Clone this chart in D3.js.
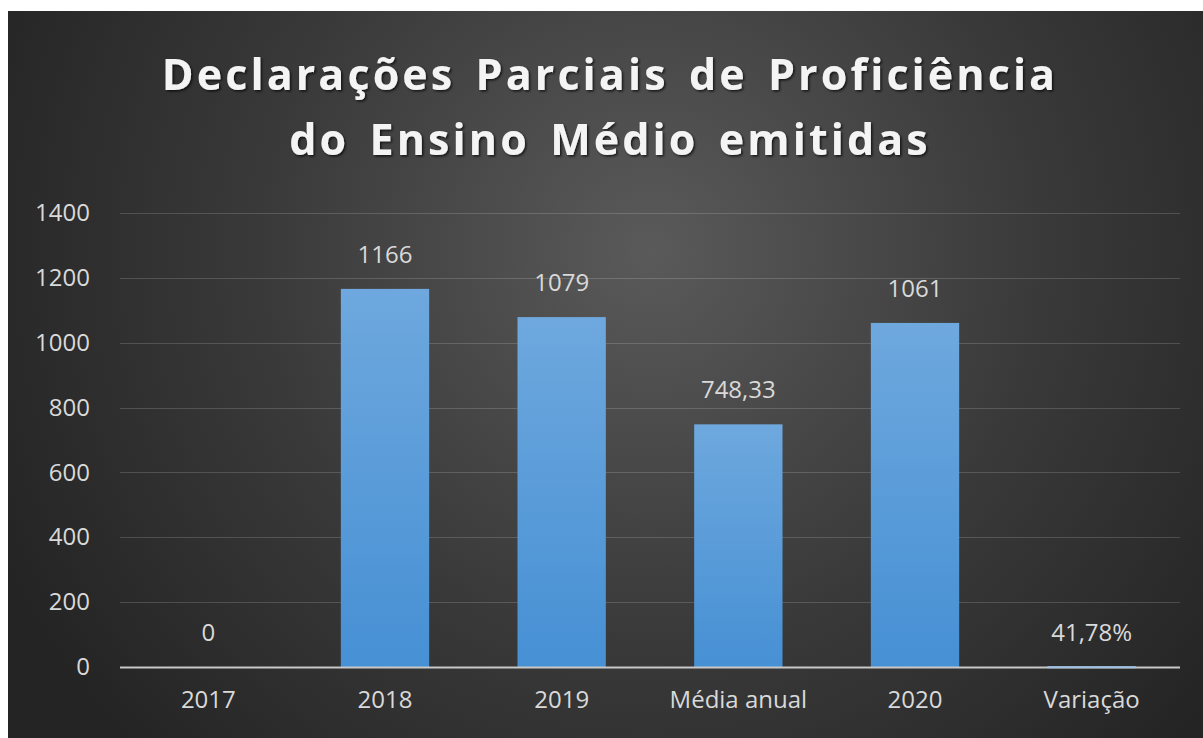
<!DOCTYPE html>
<html>
<head>
<meta charset="utf-8">
<script src="https://cdn.jsdelivr.net/npm/d3@7"></script>
<style>
    html, body { margin: 0; padding: 0; background: #ffffff; }
    svg { display: block; }
</style>
</head>
<body>
<div id="chart"></div>
<script>
// chart data
const categories = ["2017", "2018", "2019", "Média anual", "2020", "Variação"];
const values = [0, 1166, 1079, 748.33, 1061, 0.4178];
const valueLabels = ["0", "1166", "1079", "748,33", "1061", "41,78%"];
const yTicks = [0, 200, 400, 600, 800, 1000, 1200, 1400];
const titleLines = ["Declarações Parciais de Proficiência", "do Ensino Médio emitidas"];

const W = 1203, H = 738;
const frame = {left: 8, top: 11};
const margin = {top: 213, right: 23, bottom: 71, left: 120};

const svg = d3.select("#chart").append("svg")
    .attr("width", W)
    .attr("height", H);

const defs = svg.append("defs");

// dark radial background like the excel style
let bg = defs.append("radialGradient")
    .attr("id", "bg-grad")
    .attr("gradientUnits", "userSpaceOnUse")
    .attr("cx", 650).attr("cy", 250).attr("r", 720);
bg.append("stop").attr("offset", "0%").attr("stop-color", "#5a5a5a");
bg.append("stop").attr("offset", "55%").attr("stop-color", "#393939");
bg.append("stop").attr("offset", "100%").attr("stop-color", "#242424");

let barGrad = defs.append("linearGradient")
    .attr("id", "bar-grad")
    .attr("x1", 0).attr("y1", 0).attr("x2", 0).attr("y2", 1);
barGrad.append("stop").attr("offset", "0%").attr("stop-color", "#6ea8de");
barGrad.append("stop").attr("offset", "100%").attr("stop-color", "#4690d4");

let shadow = defs.append("filter").attr("id", "title-shadow")
    .attr("x", "-5%").attr("y", "-20%").attr("width", "110%").attr("height", "140%");
shadow.append("feDropShadow")
    .attr("dx", 1.5).attr("dy", 1.5).attr("stdDeviation", 1.2)
    .attr("flood-color", "#000").attr("flood-opacity", 0.7);

svg.append("rect")
    .attr("x", frame.left).attr("y", frame.top)
    .attr("width", W - frame.left).attr("height", H - frame.top)
    .attr("fill", "url(#bg-grad)");

// title, letter spaced
svg.append("g")
    .attr("filter", "url(#title-shadow)")
    .selectAll("text")
    .data(titleLines)
    .enter()
    .append("text")
    .attr("x", 610)
    .attr("y", (d, i) => 90 + i * 65)
    .attr("text-anchor", "middle")
    .attr("font-family", "'Open Sans', sans-serif")
    .attr("font-weight", "bold")
    .attr("font-size", 43)
    .attr("letter-spacing", 3.1)
    .attr("word-spacing", 6)
    .attr("fill", "#f4f4f4")
    .text(d => d);

// scales
const x = d3.scaleBand()
    .domain(categories)
    .range([margin.left, W - margin.right])
    .paddingInner(0.5)
    .paddingOuter(0.25);

const y = d3.scaleLinear()
    .domain([0, 1400])
    .range([H - margin.bottom, margin.top]);

const labelFont = "'Segoe UI', 'Open Sans', sans-serif";
const labelSize = 24;

// gridlines
svg.append("g")
    .selectAll("line")
    .data(yTicks.filter(t => t > 0))
    .enter()
    .append("line")
    .attr("x1", margin.left).attr("x2", W - margin.right)
    .attr("y1", d => Math.round(y(d)) + 0.5)
    .attr("y2", d => Math.round(y(d)) + 0.5)
    .attr("stroke", "#ffffff")
    .attr("stroke-opacity", 0.16)
    .attr("stroke-width", 1.2);

// y axis labels
let yAxis = svg.append("g")
    .attr("transform", `translate(${margin.left - 30},0)`)
    .call(d3.axisLeft(y).tickValues(yTicks).tickFormat(d3.format("d")).tickSize(0).tickPadding(0));
yAxis.select(".domain").remove();
yAxis.selectAll("text")
    .attr("font-family", labelFont)
    .attr("font-size", labelSize)
    .attr("fill", "#d9d9d9");

// bars
svg.append("g")
    .selectAll("rect")
    .data(values)
    .enter()
    .append("rect")
    .attr("x", (d, i) => x(categories[i]))
    .attr("y", d => y(d))
    .attr("width", x.bandwidth())
    .attr("height", d => y(0) - y(d))
    .attr("fill", "url(#bar-grad)");

// zero axis line
svg.append("line")
    .attr("x1", margin.left).attr("x2", W - margin.right)
    .attr("y1", y(0) + 0.5).attr("y2", y(0) + 0.5)
    .attr("stroke", "#c8c8c8")
    .attr("stroke-width", 2);

// small highlight where the tiny variation bar sits
svg.append("line")
    .attr("x1", x("Variação")).attr("x2", x("Variação") + x.bandwidth())
    .attr("y1", y(values[5]) + 0.5).attr("y2", y(values[5]) + 0.5)
    .attr("stroke", "#9fc4e6")
    .attr("stroke-width", 2);

// data labels
svg.append("g")
    .selectAll("text")
    .data(values)
    .enter()
    .append("text")
    .attr("x", (d, i) => x(categories[i]) + x.bandwidth() / 2)
    .attr("y", d => y(d) - 26)
    .attr("text-anchor", "middle")
    .attr("font-family", labelFont)
    .attr("font-size", labelSize)
    .attr("fill", "#d9d9d9")
    .text((d, i) => valueLabels[i]);

// x axis labels
let xAxis = svg.append("g")
    .attr("transform", `translate(0,${y(0)})`)
    .call(d3.axisBottom(x).tickSize(0).tickPadding(24));
xAxis.select(".domain").remove();
xAxis.selectAll("text")
    .attr("font-family", labelFont)
    .attr("font-size", labelSize)
    .attr("fill", "#d9d9d9");
</script>
</body>
</html>
